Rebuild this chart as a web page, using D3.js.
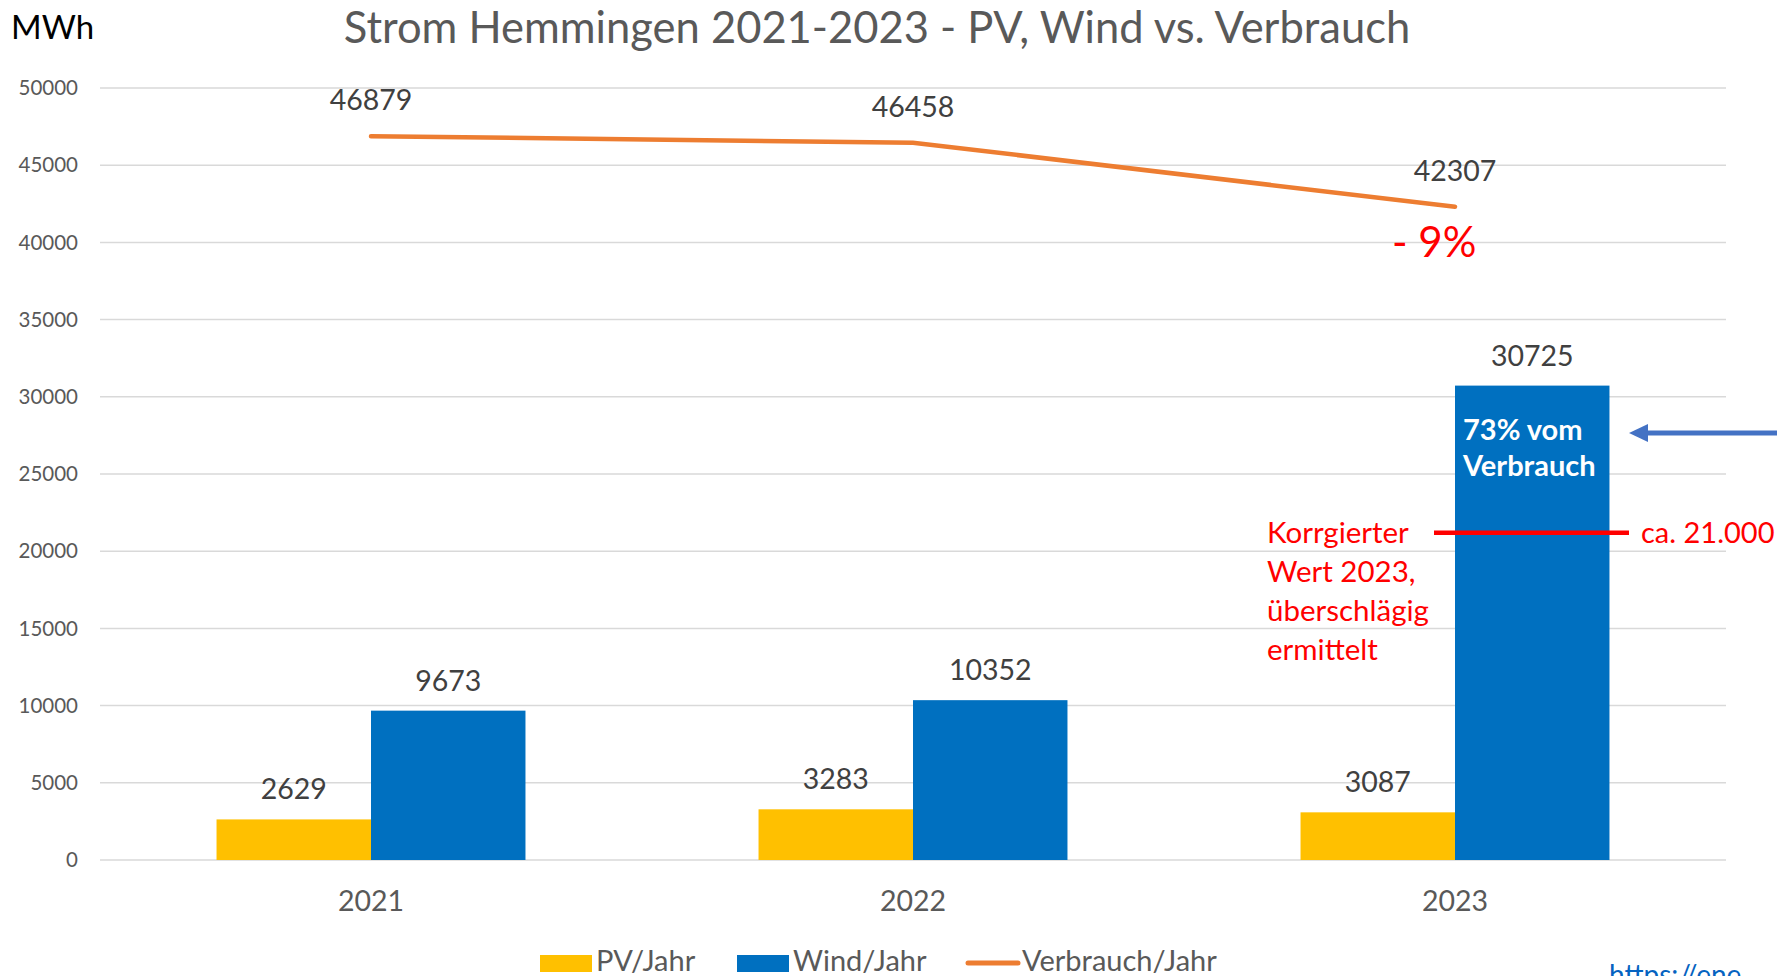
<!DOCTYPE html>
<html lang="de">
<head>
<meta charset="UTF-8">
<title>Strom Hemmingen 2021-2023</title>
<script src="https://d3js.org/d3.v7.min.js"></script>
<style>
    body { margin: 0; background: #fff; overflow: hidden; }
    svg { display: block; font-family: 'Lato', sans-serif; }
</style>
</head>
<body>
<svg id="chart" width="1777" height="976"></svg>
<script>
// Daten
const years = ["2021", "2022", "2023"];
const pv = [2629, 3283, 3087];
const wind = [9673, 10352, 30725];
const verbrauch = [46879, 46458, 42307];
const yTicks = [0, 5000, 10000, 15000, 20000, 25000, 30000, 35000, 40000, 45000, 50000];
const korrigiert = 21000;
const noteLines = ["Korrgierter", "Wert 2023,", "überschlägig", "ermittelt"];
const barNote = ["73% vom", "Verbrauch"];

const svg = d3.select("#chart");
const plotLeft = 100, plotRight = 1726, plotTop = 88, plotBottom = 860;

const x = d3.scaleBand().domain(years).range([plotLeft, plotRight]);
const y = d3.scaleLinear().domain([0, 50000]).range([plotBottom, plotTop]);
const sub = d3.scaleBand().domain(["pv", "wind"])
    .range([x.bandwidth() * 0.215, x.bandwidth() * 0.785]);

const grey = "#595959";

// Gitterlinien
svg.append("g").selectAll("line").data(yTicks).join("line")
    .attr("x1", plotLeft).attr("x2", plotRight)
    .attr("y1", d => y(d)).attr("y2", d => y(d))
    .attr("stroke", "#d9d9d9").attr("stroke-width", 1.5);

// Achsenbeschriftung y
svg.append("g").selectAll("text").data(yTicks).join("text")
    .attr("x", 78).attr("y", d => y(d)).attr("dy", "0.35em")
    .attr("text-anchor", "end").attr("font-size", 20.5).attr("fill", grey)
    .text(d => d);

// x Labels
svg.append("g").selectAll("text").data(years).join("text")
    .attr("x", d => x(d) + x.bandwidth() / 2).attr("y", 901).attr("dy", "0.35em")
    .attr("text-anchor", "middle").attr("font-size", 28.5).attr("fill", grey)
    .text(d => d);

// Balken
const series = [
    { key: "pv", values: pv, color: "#FFC000" },
    { key: "wind", values: wind, color: "#0070C0" }
];
series.forEach(s => {
    const g = svg.append("g");
    g.selectAll("rect").data(years).join("rect")
        .attr("x", d => x(d) + sub(s.key))
        .attr("y", (d, i) => y(s.values[i]))
        .attr("width", sub.bandwidth())
        .attr("height", (d, i) => y(0) - y(s.values[i]))
        .attr("fill", s.color);
    g.selectAll("text").data(years).join("text")
        .attr("x", d => x(d) + sub(s.key) + sub.bandwidth() / 2)
        .attr("y", (d, i) => y(s.values[i]) - 30).attr("dy", "0.35em")
        .attr("text-anchor", "middle").attr("font-size", 28.5).attr("fill", "#404040")
        .text((d, i) => s.values[i]);
});

// Verbrauchslinie
const cx = d => x(d) + x.bandwidth() / 2;
const line = d3.line().x((d, i) => cx(years[i])).y(d => y(d));
svg.append("path").datum(verbrauch)
    .attr("d", line).attr("fill", "none")
    .attr("stroke", "#ED7D31").attr("stroke-width", 4.5).attr("stroke-linecap", "round");
svg.append("g").selectAll("text").data(verbrauch).join("text")
    .attr("x", (d, i) => cx(years[i]))
    .attr("y", d => y(d) - 36).attr("dy", "0.35em")
    .attr("text-anchor", "middle").attr("font-size", 28.5).attr("fill", "#404040")
    .text(d => d);

// Titel
svg.append("text").attr("x", 877).attr("y", 28).attr("dy", "0.35em")
    .attr("text-anchor", "middle").attr("font-size", 43.5).attr("fill", grey)
    .text("Strom Hemmingen 2021-2023 - PV, Wind vs. Verbrauch");
svg.append("text").attr("x", 11).attr("y", 27).attr("dy", "0.35em")
    .attr("font-size", 33).attr("fill", "#000").text("MWh");

// -9%
svg.append("text").attr("x", cx("2023") - 63).attr("y", y(verbrauch[2]) + 36).attr("dy", "0.35em")
    .attr("font-size", 42).attr("fill", "#FF0000").text("- 9%");

// Hinweis im Balken
const windX = x("2023") + sub("wind");
svg.append("g").selectAll("text").data(barNote).join("text")
    .attr("x", windX + 8).attr("y", (d, i) => 430 + i * 36).attr("dy", "0.35em")
    .attr("font-size", 29).attr("font-weight", "bold").attr("fill", "#fff")
    .text(d => d);

// Pfeil
svg.append("line").attr("x1", 1790).attr("x2", 1640).attr("y1", 433).attr("y2", 433)
    .attr("stroke", "#4472C4").attr("stroke-width", 5);
svg.append("path").attr("d", "M1629,433 L1648,424 L1648,442 Z").attr("fill", "#4472C4");

// Korrigierter Wert
svg.append("line").attr("x1", 1434).attr("x2", 1629)
    .attr("y1", y(korrigiert) - 3).attr("y2", y(korrigiert) - 3)
    .attr("stroke", "#FF0000").attr("stroke-width", 4.5);
svg.append("text").attr("x", 1641).attr("y", y(korrigiert) - 3).attr("dy", "0.35em")
    .attr("font-size", 29).attr("fill", "#FF0000").text("ca. 21.000");
svg.append("g").selectAll("text").data(noteLines).join("text")
    .attr("x", 1267).attr("y", (d, i) => y(korrigiert) - 3 + i * 39).attr("dy", "0.35em")
    .attr("font-size", 29.5).attr("fill", "#FF0000").text(d => d);

// Legende
const legend = [
    { name: "PV/Jahr", color: "#FFC000", type: "rect", x: 540 },
    { name: "Wind/Jahr", color: "#0070C0", type: "rect", x: 737 },
    { name: "Verbrauch/Jahr", color: "#ED7D31", type: "line", x: 966 }
];
const lg = svg.append("g");
legend.forEach(l => {
    if (l.type === "rect") {
        lg.append("rect").attr("x", l.x).attr("y", 955).attr("width", 52).attr("height", 17).attr("fill", l.color);
    } else {
        lg.append("line").attr("x1", l.x + 2).attr("x2", l.x + 52).attr("y1", 963).attr("y2", 963)
            .attr("stroke", l.color).attr("stroke-width", 5).attr("stroke-linecap", "round");
    }
    lg.append("text").attr("x", l.x + 56).attr("y", 971)
        .attr("font-size", 29).attr("fill", grey).text(l.name);
});

// Link unten rechts (abgeschnitten)
svg.append("text").attr("x", 1609).attr("y", 985)
    .attr("font-size", 28).attr("fill", "#0563C1").text("https://ene");
</script>
</body>
</html>
